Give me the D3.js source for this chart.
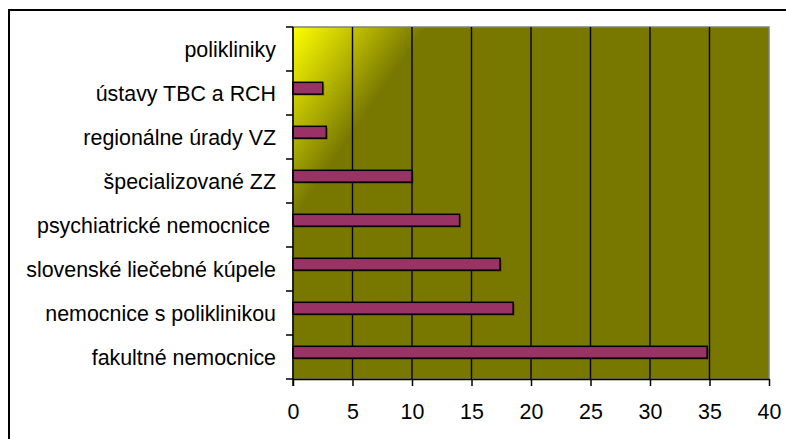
<!DOCTYPE html>
<html>
<head>
<meta charset="utf-8">
<script src="https://cdn.jsdelivr.net/npm/d3@7"></script>
<style>
  html, body { margin: 0; padding: 0; background: #fff; }
  svg { display: block; }
  text { font-family: "Liberation Sans", Arial, sans-serif; white-space: pre; }
</style>
</head>
<body>
<div id="chart"></div>
<script>
// categories top to bottom
const categories = [
  'polikliniky',
  'ústavy TBC a RCH',
  'regionálne úrady VZ',
  'špecializované ZZ',
  'psychiatrické nemocnice ',
  'slovenské liečebné kúpele',
  'nemocnice s poliklinikou',
  'fakultné nemocnice'
];
const values = [0, 2.5, 2.8, 10, 14, 17.4, 18.5, 34.8];
const xTicks = [0, 5, 10, 15, 20, 25, 30, 35, 40];

(function(){
  const W = 786, H = 439;
  const svg = d3.select('#chart').append('svg').attr('width', W).attr('height', H);

  // chart frame (runs off the right and bottom edge)
  svg.append('rect').attr('x', 9).attr('y', 10).attr('width', 820).attr('height', 480)
    .attr('fill', '#fff').attr('stroke', '#000').attr('stroke-width', 2);

  const plot = { left: 293, top: 27, right: 769, bottom: 379 };

  const x = d3.scaleLinear().domain([0, 40]).range([plot.left, plot.right]);
  const y = d3.scaleBand().domain(categories).range([plot.top, plot.bottom]).padding(0);

  // background gradient: yellow from top-left corner into olive
  const defs = svg.append('defs');
  const grad = defs.append('linearGradient').attr('id', 'bg')
    .attr('gradientUnits', 'userSpaceOnUse')
    .attr('x1', plot.left).attr('y1', plot.top)
    .attr('x2', plot.left + 90).attr('y2', plot.top + 62);
  grad.append('stop').attr('offset', '0%').attr('stop-color', '#ffff00');
  grad.append('stop').attr('offset', '45%').attr('stop-color', '#c4c400');
  grad.append('stop').attr('offset', '100%').attr('stop-color', '#787800');

  svg.append('rect')
    .attr('x', plot.left).attr('y', plot.top)
    .attr('width', plot.right - plot.left).attr('height', plot.bottom - plot.top)
    .attr('fill', 'url(#bg)').attr('stroke', '#808080').attr('stroke-width', 1.5);

  // vertical gridlines
  svg.append('g').selectAll('line')
    .data(xTicks.slice(1, -1))
    .enter().append('line')
    .attr('x1', d => x(d)).attr('x2', d => x(d))
    .attr('y1', plot.top).attr('y2', plot.bottom)
    .attr('stroke', '#000').attr('stroke-width', 1.4);

  // bars with a faint shadow
  const bw = y.bandwidth();
  const barData = categories.map((c, i) => ({ c, v: values[i] })).filter(d => d.v > 0);
  const bars = svg.append('g');
  bars.selectAll('.shadow').data(barData)
    .enter().append('rect').attr('class', 'shadow')
    .attr('x', x(0) + 1.5).attr('y', d => y(d.c) + bw * 0.257 + 1.5)
    .attr('width', d => x(d.v) - x(0)).attr('height', bw * 0.27)
    .attr('fill', 'rgba(0,0,0,0.28)');
  bars.selectAll('.bar').data(barData)
    .enter().append('rect').attr('class', 'bar')
    .attr('x', x(0)).attr('y', d => y(d.c) + bw * 0.257)
    .attr('width', d => x(d.v) - x(0)).attr('height', bw * 0.27)
    .attr('fill', '#993366').attr('stroke', '#000').attr('stroke-width', 1.5);

  // y axis: ticks at band edges, labels right-aligned
  const yEdges = categories.map(c => y(c)).concat([plot.bottom]);
  const yAx = svg.append('g');
  yAx.append('line').attr('x1', plot.left).attr('x2', plot.left)
    .attr('y1', plot.top).attr('y2', plot.bottom + 7)
    .attr('stroke', '#000').attr('stroke-width', 1.5);
  yAx.selectAll('.tk').data(yEdges).enter().append('line')
    .attr('x1', plot.left - 7).attr('x2', plot.left)
    .attr('y1', d => d).attr('y2', d => d)
    .attr('stroke', '#000').attr('stroke-width', 1.5);
  yAx.selectAll('text').data(categories).enter().append('text')
    .attr('x', 276).attr('y', d => y(d) + bw / 2).attr('dy', '0.36em')
    .attr('text-anchor', 'end').attr('font-size', 21.4).attr('fill', '#000')
    .text(d => d);

  // x axis
  const xAx = svg.append('g').attr('transform', `translate(0,${plot.bottom})`)
    .call(d3.axisBottom(x).tickValues(xTicks).tickSize(7).tickSizeOuter(0));
  xAx.select('.domain').attr('stroke', '#000').attr('stroke-width', 1.5);
  xAx.selectAll('.tick line').attr('stroke', '#000').attr('stroke-width', 1.5);
  xAx.selectAll('.tick text').attr('font-size', 21.4).attr('fill', '#000')
    .attr('font-family', '"Liberation Sans", Arial, sans-serif')
    .attr('y', 0).attr('dy', 40);
})();
</script>
</body>
</html>
